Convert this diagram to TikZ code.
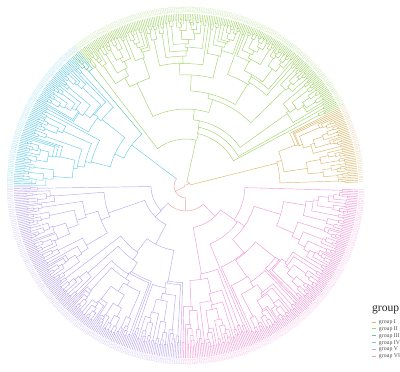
\documentclass[tikz,border=0pt]{standalone}
\usepackage{fontspec}
\setmainfont{Liberation Serif}
\definecolor{gI}{HTML}{D8B76B}
\definecolor{gII}{HTML}{A3D36E}
\definecolor{gIII}{HTML}{5FC4A6}
\definecolor{gIV}{HTML}{6ACBEA}
\definecolor{gV}{HTML}{BBA8F0}
\definecolor{gVI}{HTML}{F09AD9}
\definecolor{groot}{HTML}{F4A3A8}
\def\astart{1}
\def\astep{0.581169}
\def\Rtip{172}
\def\Rlab{173}
\tikzset{
  branch/.style={line width=0.45pt, line cap=round},
  lab/.style={inner sep=0pt, font=\fontsize{1.7}{1.7}\selectfont},
  keyline/.style={line width=0.6pt},
  legtext/.style={inner sep=0pt, anchor=base west, text=black!70, font=\fontsize{5.8}{6.5}\selectfont}
}
\newcommand\leaf[1]{%
  \pgfmathsetmacro\la{\astart+(#1+0.5)*\astep}%
  \pgfmathtruncatemacro\lid{#1+1}%
  \ifdim\la pt>90pt \ifdim\la pt<270pt \def\lflip{1}\else\def\lflip{0}\fi\else\def\lflip{0}\fi
  \ifnum\lflip=1
    \node[lab,anchor=east,rotate=\la+180] (leaf\lid) at (\la:\Rlab pt) {gene\lid};
  \else
    \node[lab,anchor=west,rotate=\la] (leaf\lid) at (\la:\Rlab pt) {gene\lid};
  \fi}
\newcommand\clade[3]{%
  \ifnum#2>1
    \begingroup
    \edef\ci{#1}\edef\cn{#2}\edef\cr{#3}%
    \pgfmathtruncatemacro\nmo{\cn-1}%
    \pgfmathsetmacro\uu{rnd}%
    \ifdim\uu pt<0.35pt
      \pgfmathsetmacro\vv{rnd}%
      \pgfmathtruncatemacro\pk{min(\nmo,1+int(3*rnd))}%
      \ifdim\vv pt<0.5pt \let\kk\pk\else \pgfmathtruncatemacro\kk{\cn-\pk}\fi
    \else
      \pgfmathrandominteger{\kk}{1}{\nmo}%
    \fi
    \pgfmathtruncatemacro\ib{\ci+\kk}%
    \pgfmathtruncatemacro\nb{\cn-\kk}%
    \pgfmathsetmacro\ta{\astart+(\ci+\kk/2)*\astep}%
    \pgfmathsetmacro\tb{\astart+(\ib+\nb/2)*\astep}%
    \ifnum\kk=1 \let\ra\Rtip\else\pgfmathsetmacro\ra{\Rtip-(\Rtip-\cr)*pow(ln(\kk+1)/ln(\cn+1),1.3)*(0.9+0.1*rnd)}\fi
    \ifnum\nb=1 \let\rb\Rtip\else\pgfmathsetmacro\rb{\Rtip-(\Rtip-\cr)*pow(ln(\nb+1)/ln(\cn+1),1.3)*(0.9+0.1*rnd)}\fi
    \draw[branch] (\ta:\ra pt) -- (\ta:\cr pt) arc[start angle=\ta, end angle=\tb, radius=\cr pt] -- (\tb:\rb pt);
    \edef\next{\noexpand\clade{\ci}{\kk}{\ra}\noexpand\clade{\ib}{\nb}{\rb}}%
    \next
    \endgroup
  \else
    \leaf{#1}%
  \fi}
\begin{document}
\begin{tikzpicture}
\useasboundingbox (-186pt,-186pt) rectangle (214pt,186pt);
\pgfmathsetseed{777}
% root-level backbone
\coordinate (root) at (0,0);
\draw[branch,groot] (45.9:4.5pt) -- (45.9:1.5pt) arc[start angle=45.9, end angle=206, radius=1.5pt] -- (206:12pt);
\draw[branch,groot] (14.1:4.5pt) arc[start angle=14.1, end angle=77.7, radius=4.5pt];
\draw[branch,gI] (14.1:4.5pt) -- (14.1:94pt);
\draw[branch,gII] (77.7:4.5pt) -- (77.7:47pt);
\draw[branch,groot] (143:12pt) arc[start angle=143, end angle=268.9, radius=12pt] -- (268.9:25pt);
\draw[branch,gIV] (143:12pt) -- (143:68pt);
\draw[branch,gIV] (130.3:68pt) arc[start angle=130.3, end angle=155.8, radius=68pt];
\draw[branch,gIII] (130.3:68pt) -- (130.3:150pt);
\draw[branch,gIV] (155.8:68pt) -- (155.8:78pt);
\draw[branch,groot] (224.1:25pt) arc[start angle=224.1, end angle=313.6, radius=25pt];
\draw[branch,gV] (224.1:25pt) -- (224.1:35pt);
\draw[branch,gVI] (313.6:25pt) -- (313.6:42pt);
% clades
\begin{scope}[color=gI]\clade{0}{45}{94}\end{scope}
\begin{scope}[color=gII]\clade{45}{174}{47}\end{scope}
\begin{scope}[color=gIII]\clade{219}{6}{150}\end{scope}
\begin{scope}[color=gIV]\clade{225}{83}{78}\end{scope}
\begin{scope}[color=gV]\clade{308}{152}{35}\end{scope}
\begin{scope}[color=gVI]\clade{460}{156}{42}\end{scope}
% legend
\node[inner sep=0pt, anchor=base west, text=black!85, font=\fontsize{11.6}{13}\selectfont] (legtitle) at (186pt,-126pt) {group};
\foreach \gname/\gcol [count=\j from 0] in {I/gI, II/gII, III/gIII, IV/gIV, V/gV, VI/gVI}{
  \pgfmathsetmacro\yy{-136-6.8*\j}
  \coordinate (k\j a) at (186pt,\yy pt);
  \coordinate (k\j b) at (190.5pt,\yy pt);
  \draw[keyline,\gcol] (k\j a) -- (k\j b);
  \node[legtext] (leg\j) at (192.8pt,\yy pt-1.8pt) {group \gname};
}
\end{tikzpicture}
\end{document}
